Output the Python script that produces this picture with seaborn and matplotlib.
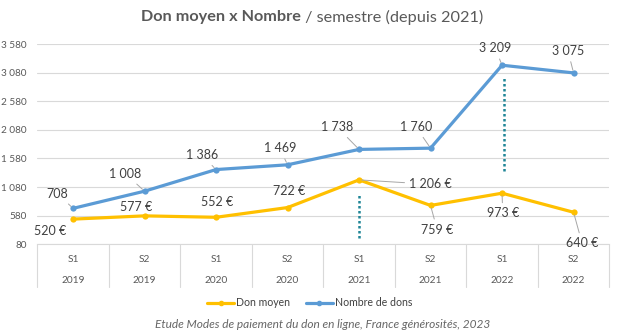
import numpy as np
import pandas as pd
import matplotlib
matplotlib.use("Agg")
import matplotlib.pyplot as plt
import seaborn as sns
from matplotlib.lines import Line2D

# ---- data ----
semestres = ["S1", "S2", "S1", "S2", "S1", "S2", "S1", "S2"]
annees = ["2019", "2019", "2020", "2020", "2021", "2021", "2022", "2022"]
don_moyen = [520, 577, 552, 722, 1206, 759, 973, 640]
nombre_dons = [708, 1008, 1386, 1469, 1738, 1760, 3209, 3075]
y_ticks = [80, 580, 1080, 1580, 2080, 2580, 3080, 3580]
series_names = ["Don moyen", "Nombre de dons"]

# ---- style ----
sns.set_style("white")
plt.rcParams["font.family"] = ["Lato", "DejaVu Sans"]

BLUE = "#5B9BD5"
YELLOW = "#FFC000"
GRID = "#D9D9D9"
TXT = "#404040"
TICK = "#595959"

def fmt(v):
    return f"{v:,}".replace(",", " ")

n = len(semestres)
df = pd.DataFrame({
    "pos": list(range(n)) * 2,
    "valeur": don_moyen + nombre_dons,
    "serie": [series_names[0]] * n + [series_names[1]] * n,
})

fig = plt.figure(figsize=(6.22, 3.35), dpi=100)
ax = fig.add_axes([37.3 / 622, 1 - 244.3 / 335, (609.3 - 37.3) / 622, (244.3 - 44) / 335])

sns.lineplot(data=df, x="pos", y="valeur", hue="serie", hue_order=series_names,
             palette=[YELLOW, BLUE], marker="o", markersize=4.5, markeredgewidth=0,
             linewidth=2.3, ax=ax, legend=False, zorder=3)

ax.set_xlim(-0.5, n - 0.5)
ax.set_ylim(y_ticks[0], y_ticks[-1])
ax.set_yticks(y_ticks)
ax.set_yticklabels([fmt(t) for t in y_ticks])
ax.set_xticks([])
ax.set_xlabel("")
ax.set_ylabel("")
ax.tick_params(axis="y", length=0, pad=7.5, labelsize=7.2, labelcolor=TICK)
ax.grid(axis="y", color=GRID, linewidth=0.8)
ax.set_axisbelow(True)
for s in ["left", "right", "top"]:
    ax.spines[s].set_visible(False)
ax.spines["bottom"].set_color(GRID)
ax.spines["bottom"].set_linewidth(0.8)

# category "table" below axis
xt = ax.get_xaxis_transform()
tbl_bottom = -(287.3 - 244.3) / 200.3
for b in np.arange(-0.5, n, 1.0):
    ax.plot([b, b], [0, tbl_bottom], transform=xt, color=GRID, lw=0.8, clip_on=False)
for i in range(n):
    ax.text(i, -(259 - 244.3) / 200.3, semestres[i], transform=xt, ha="center", va="center",
            fontsize=7.3, color=TICK)
    ax.text(i, -(280.7 - 244.3) / 200.3, annees[i], transform=xt, ha="center", va="center",
            fontsize=7.3, color=TICK)

# data labels (offsets in pixels)
off_yellow = [(-22.7, -12), (-8.3, 8.6), (0.7, 15.6), (1.3, 16.3),
              (71.5, -4.4), (6.6, -24.2), (0.7, -20.2), (8.6, -31.2)]
lead_yellow = [False, False, False, False, True, True, True, True]
off_blue = [(-15.4, 14.6), (-19, 17.3), (-14, 14.4), (-7.7, 16.4),
            (-21.8, 22.2), (-14.6, 21.2), (-6.7, 16.8), (-5.5, 21.8)]
lead_blue = [True] * 8

def label(vals, offs, leads, suffix):
    for i, v in enumerate(vals):
        ap = dict(arrowstyle="-", color="#A6A6A6", lw=0.7, shrinkA=1, shrinkB=2) if leads[i] else None
        ax.annotate(fmt(v) + suffix, xy=(i, v), xytext=offs[i], textcoords="offset pixels",
                    ha="center", va="center", fontsize=9, color=TXT, arrowprops=ap, zorder=5)

label(don_moyen, off_yellow, lead_yellow, " €")
label(nombre_dons, off_blue, lead_blue, "")

# dotted teal markers
ax.plot([4, 4], [190, 970], ls=(0, (1, 1)), color="#1F8596", lw=1.8, zorder=2)
ax.plot([6.03, 6.03], [1356, 3029], ls=(0, (1, 1)), color="#1F8596", lw=1.8, zorder=2)

# title
fig.text(301 / 622, 1 - 17 / 335, "Don moyen x Nombre", ha="right", va="center",
         fontsize=11.7, fontweight="bold", color=TICK)
fig.text(301 / 622, 1 - 17 / 335, " / semestre (depuis 2021)", ha="left", va="center",
         fontsize=11.7, color=TICK)

# legend
handles = [Line2D([0], [0], color=YELLOW, lw=2.3, marker="o", ms=3),
           Line2D([0], [0], color=BLUE, lw=2.3, marker="o", ms=3)]
fig.legend(handles, series_names, loc="center", bbox_to_anchor=(310 / 622, 1 - 303 / 335),
           ncol=2, frameon=False, fontsize=7.6, handlelength=2.5, handletextpad=0.25,
           columnspacing=1.5, labelcolor=TXT)

# footnote
fig.text(323 / 622, 1 - 324.3 / 335, "Etude Modes de paiement du don en ligne, France générosités, 2023",
         ha="center", va="center", fontsize=8.6, style="italic", color="#666666")

fig.savefig("out.png", dpi=100)
